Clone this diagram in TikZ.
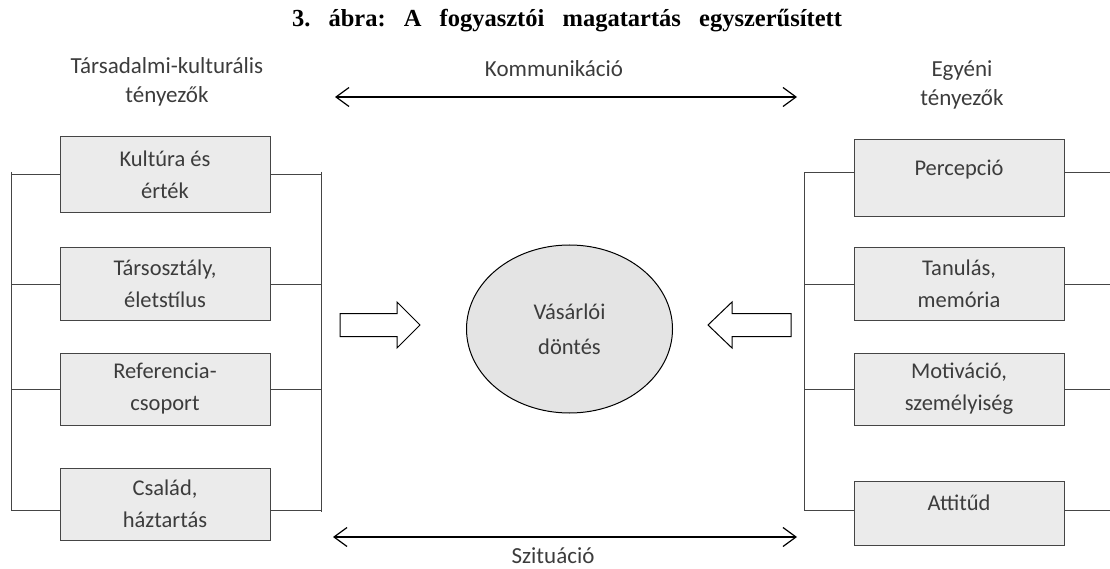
\documentclass[tikz,border=0pt]{standalone}
\usepackage{fontspec}
\setmainfont{Carlito}
\newfontfamily\titlefont{Liberation Serif}
\usetikzlibrary{positioning, arrows.meta, shapes.geometric}

\definecolor{boxfill}{HTML}{EBEBEB}
\definecolor{ovalfill}{HTML}{E4E4E4}
\definecolor{inkgray}{HTML}{3C3C3C}
\definecolor{linegray}{HTML}{454545}

\begin{document}
\begin{tikzpicture}[
  x=1pt, y=-1pt,
  >={Straight Barb[length=13pt, width=19pt]},
  txt/.style     = {font=\fontsize{23}{29}\selectfont, text=inkgray, align=center, inner sep=0pt},
  factor/.style  = {draw=linegray, fill=boxfill, line width=1pt, minimum width=210pt,
                    minimum height=72pt, inner sep=0pt, align=center, text=inkgray,
                    font=\fontsize{22.5}{32}\selectfont},
  oneline/.style = {text height=16pt, text depth=22pt},
  bus/.style     = {draw=linegray, line width=1pt},
  hollow/.style  = {draw=black, fill=white, line width=1pt, line join=miter},
  flow/.style    = {<->, line width=1.2pt},
]
  \useasboundingbox (0,0) rectangle (1110,569);

  % ---- title and headings ----
  \node[font=\titlefont\bfseries\fontsize{24.5}{30}\selectfont, inner sep=0pt] (title) at (567,21)
    {\frenchspacing\makebox[550pt][s]{3. ábra: A fogyasztói magatartás egyszerűsített}};
  \node[txt] (socio) at (167,82) {Társadalmi-kulturális\\tényezők};
  \node[txt] (indiv) at (962,85) {Egyéni\\tényezők};
  \node[txt] (komm)  at (554,69) {Kommunikáció};
  \node[txt] (szit)  at (553,556) {Szituáció};

  % ---- communication / situation arrows ----
  \coordinate (kommL) at (335,97);
  \coordinate (kommR) at (797,97);
  \coordinate (szitL) at (333,537);
  \coordinate (szitR) at (797,537);
  \draw[flow] (kommL) -- (kommR);
  \draw[flow] (szitL) -- (szitR);

  % ---- centre: buying decision ----
  \node[ellipse, draw, line width=1pt, fill=ovalfill, minimum width=206pt, minimum height=168pt,
        txt, font=\fontsize{22.5}{35}\selectfont] (decision) at (569.5,329) {Vásárlói\\döntés};

  % hollow block arrows pointing at the decision
  \coordinate (pushL) at (340,325);
  \coordinate (pushR) at (791,325);
  \draw[hollow] (pushL) ++(0,-11.5) -- ++(57,0) -- ++(0,-11.5) -- ++(23,23)
                -- ++(-23,23) -- ++(0,-11.5) -- ++(-57,0) -- cycle;
  \draw[hollow] (pushR) ++(0,-11.5) -- ++(-59,0) -- ++(0,-11.5) -- ++(-24,23)
                -- ++(24,23) -- ++(0,-11.5) -- ++(59,0) -- cycle;

  % ---- left: socio-cultural factors ----
  \node[factor, minimum height=76pt]    (kultura)     at (165,175) {Kultúra és\\érték};
  \node[factor, below=34pt of kultura]     (tarsosztaly) {Társosztály,\\életstílus};
  \node[factor, below=32pt of tarsosztaly] (referencia)  {Referencia-\\csoport};
  \node[factor, below=42pt of referencia]  (csalad)      {Család,\\háztartás};

  \coordinate (lbus) at (11,0);
  \coordinate (mbus) at (321,0);
  \draw[bus] ([yshift=3pt]kultura.west -| lbus) -- ([yshift=-6pt]csalad.west -| lbus);
  \draw[bus] ([yshift=3pt]kultura.east -| mbus) -- ([yshift=-8pt]csalad.east -| mbus);
  \foreach \f in {kultura, tarsosztaly, referencia} {
    \draw[bus] (\f.west -| lbus) -- (\f.west);
    \draw[bus] (\f.east) -- (\f.east -| mbus);
  }
  \draw[bus] ([yshift=-6pt]csalad.west -| lbus) -- ([yshift=-6pt]csalad.west);
  \draw[bus] ([yshift=-6pt]csalad.east) -- ([yshift=-6pt]csalad.east -| mbus);

  % ---- right: individual factors ----
  \node[factor, oneline, minimum height=77pt] (percepcio) at (959,178.5) {Percepció};
  \node[factor, below=30pt of percepcio] (tanulas)   {Tanulás,\\memória};
  \node[factor, below=32pt of tanulas]   (motivacio) {Motiváció,\\személyiség};
  \node[factor, oneline, minimum height=64pt, below=55pt of motivacio] (attitud) {Attitűd};

  \coordinate (rbus) at (804,0);
  \coordinate (edge) at (1110,0);
  \draw[bus] ([yshift=6pt]percepcio.west -| rbus) -- ([yshift=3pt]attitud.west -| rbus);
  \draw[bus] ([yshift=6pt]percepcio.west -| rbus) -- ([yshift=6pt]percepcio.west);
  \draw[bus] ([yshift=6pt]percepcio.east) -- ([yshift=6pt]percepcio.east -| edge);
  \foreach \f in {tanulas, motivacio} {
    \draw[bus] (\f.west -| rbus) -- (\f.west);
    \draw[bus] (\f.east) -- (\f.east -| edge);
  }
  \draw[bus] ([yshift=3pt]attitud.west -| rbus) -- ([yshift=3pt]attitud.west);
  \draw[bus] ([yshift=3pt]attitud.east) -- ([yshift=3pt]attitud.east -| edge);
\end{tikzpicture}
\end{document}
